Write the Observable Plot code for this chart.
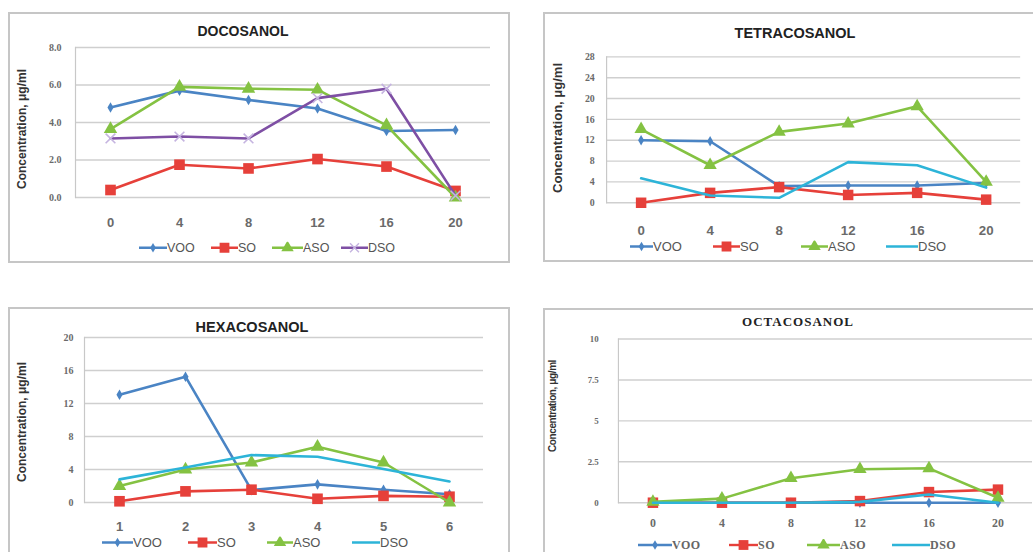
<!DOCTYPE html>
<html><head><meta charset="utf-8">
<script src="https://cdn.jsdelivr.net/npm/d3@7"></script>
<script src="https://cdn.jsdelivr.net/npm/@observablehq/plot@0.6"></script>
<style>
body{margin:0;background:#fff;}
#root{position:relative;width:1033px;height:552px;overflow:hidden;background:#fff;font-family:"Liberation Sans",Arial,sans-serif;}
.box{position:absolute;border:2px solid #c6c6c6;box-sizing:border-box;background:#fff;}
.plotwrap{position:absolute;}
.title{position:absolute;transform:translate(-50%,-50%);font-weight:bold;color:#222;white-space:nowrap;}
.ylab{position:absolute;transform:translate(-50%,-50%) rotate(-90deg);font-weight:bold;color:#333;white-space:nowrap;}
.item{position:absolute;display:flex;align-items:center;transform:translateY(-50%);color:#555;font-size:12.5px;white-space:nowrap;line-height:1;}
.item svg{display:block;}
</style></head>
<body><div id="root"></div>
<script>
// ---- data ----
const series = ["VOO", "SO", "ASO", "DSO"];
const hoursCats = ["0", "4", "8", "12", "16", "20"];
const hexaCats = ["1", "2", "3", "4", "5", "6"];

const docoTicks = [0, 2, 4, 6, 8];
const tetraTicks = [0, 4, 8, 12, 16, 20, 24, 28];
const hexaTicks = [0, 4, 8, 12, 16, 20];
const octaTicks = [0, 2.5, 5, 7.5, 10];

const docoVOO = [4.8, 5.7, 5.2, 4.75, 3.55, 3.6];
const docoSO  = [0.4, 1.75, 1.55, 2.05, 1.65, 0.35];
const docoASO = [3.65, 5.9, 5.8, 5.75, 3.85, 0.0];
const docoDSO = [3.15, 3.25, 3.15, 5.3, 5.8, 0.1];

const tetraVOO = [12.0, 11.8, 3.2, 3.3, 3.3, 3.8];
const tetraSO  = [0.0, 1.9, 3.0, 1.5, 1.9, 0.6];
const tetraASO = [14.1, 7.2, 13.6, 15.2, 18.5, 4.0];
const tetraDSO = [4.7, 1.4, 0.95, 7.8, 7.2, 2.9];

const hexaVOO = [13.05, 15.25, 1.5, 2.2, 1.55, 1.0];
const hexaSO  = [0.15, 1.35, 1.55, 0.45, 0.8, 0.7];
const hexaASO = [2.0, 4.0, 4.85, 6.75, 4.85, 0.0];
const hexaDSO = [2.8, 4.25, 5.75, 5.55, 4.05, 2.55];

const octaVOO = [0, 0, 0, 0, 0, 0];
const octaSO  = [0, 0, 0, 0.1, 0.65, 0.8];
const octaASO = [0.05, 0.25, 1.5, 2.05, 2.1, 0.3];
const octaDSO = [0, 0, 0, 0.05, 0.5, 0];

const yTitle = "Concentration, μg/ml";

// ---- styling ----
const colors = {VOO: "#4a84c4", SO: "#e6403a", ASO: "#84c242", DSO: "#2db4d8"};
const dsoPurple = "#7e4fa4";
const markers = {
  VOO: {symbol: "diamond", r: 3.2},
  SO: {symbol: "square", r: 6},
  ASO: {symbol: "triangle", r: 5},
  DSO: null
};

const root = document.getElementById("root");

function el(tag, cls, style, text) {
  const e = document.createElement(tag);
  if (cls) e.className = cls;
  Object.assign(e.style, style || {});
  if (text != null) e.textContent = text;
  root.appendChild(e);
  return e;
}

function panel(p) {
  el("div", "box", {left: p.box[0] + "px", top: p.box[1] + "px", width: p.box[2] + "px", height: p.box[3] + "px"});
  const rows = [];
  series.forEach(s => p.values[s].forEach((v, i) => rows.push({cat: p.cats[i], s, v})));
  const marks = [
    Plot.gridY(p.ticks, {stroke: "#cfcfcf", strokeOpacity: 1, strokeWidth: 1.4}),
    Plot.frame({anchor: "left", stroke: "#c8c8c8", strokeWidth: 1.2}),
    Plot.axisY(p.ticks, {tickSize: 0, tickPadding: p.yPad, tickFormat: p.fmt, fontWeight: "bold",
      fontFamily: "Liberation Serif, serif", fontSize: p.yFont, fill: "#6a6a6a", label: null}),
    Plot.axisX({tickSize: 0, tickPadding: p.xPad, fontFamily: p.xFamily, fontWeight: "bold",
      fontSize: p.xFont, fill: "#6a6a6a", label: null})
  ];
  series.forEach(s => {
    const d = rows.filter(r => r.s === s);
    const c = p.colors[s];
    marks.push(Plot.line(d, {x: "cat", y: "v", stroke: c, strokeWidth: 2.6}));
    const m = p.markers[s];
    if (m) {
      if (m.symbol === "times") {
        marks.push(Plot.dot(d, {x: "cat", y: "v", symbol: "times", r: m.r, stroke: m.color, strokeWidth: 1.6}));
      } else {
        marks.push(Plot.dot(d, {x: "cat", y: "v", symbol: m.symbol, r: m.r, fill: c, stroke: "none"}));
      }
    }
  });
  const chart = Plot.plot({
    width: p.box[2], height: p.box[3],
    marginLeft: p.m[0], marginRight: p.m[1], marginTop: p.m[2], marginBottom: p.m[3],
    x: {type: "point", domain: p.cats, padding: 0.5},
    y: {domain: p.ydomain},
    marks,
    style: {background: "transparent", color: "#505050", overflow: "visible"}
  });
  const w = el("div", "plotwrap", {left: p.box[0] + "px", top: p.box[1] + "px"});
  w.appendChild(chart);
  el("div", "title", Object.assign({left: p.title[1] + "px", top: p.title[2] + "px"}, p.titleStyle), p.title[0]);
  el("div", "ylab", Object.assign({left: p.ylab[0] + "px", top: p.ylab[1] + "px"}, p.ylabStyle), yTitle);
  series.forEach((s, i) => {
    const [x0, len] = p.legend[i];
    const it = el("div", "item", Object.assign({left: x0 + "px", top: p.legendY + "px"}, p.legendStyle || {}));
    const svg = d3.select(it).append("svg").attr("width", len).attr("height", 12);
    const c = p.colors[s];
    svg.append("line").attr("x1", 0).attr("x2", len).attr("y1", 6).attr("y2", 6).attr("stroke", c).attr("stroke-width", 2.4);
    const m = p.markers[s];
    if (m) {
      const sym = {diamond: d3.symbolDiamond, square: d3.symbolSquare, triangle: d3.symbolTriangle, times: d3.symbolTimes}[m.symbol];
      const path = svg.append("path").attr("transform", `translate(${len / 2},6)`)
        .attr("d", d3.symbol(sym, Math.PI * m.r * m.r * 0.85)());
      if (m.symbol === "times") path.attr("fill", "none").attr("stroke", m.color).attr("stroke-width", 1.4);
      else path.attr("fill", c);
    }
    const t = document.createElement("span");
    t.textContent = s;
    it.appendChild(t);
  });
}

const fmt1 = d3.format(".1f");

panel({
  box: [8, 12, 502, 251], m: [67, 20, 35, 66],
  cats: hoursCats, ticks: docoTicks, ydomain: [0, 8], fmt: fmt1, yPad: 14, yFont: 10,
  xPad: 20, xFont: 13, xFamily: "Liberation Sans, sans-serif",
  values: {VOO: docoVOO, SO: docoSO, ASO: docoASO, DSO: docoDSO},
  colors: Object.assign({}, colors, {DSO: dsoPurple}),
  markers: Object.assign({}, markers, {DSO: {symbol: "times", r: 4.5, color: "#c5b4e0"}}),
  title: ["DOCOSANOL", 243, 31], titleStyle: {fontSize: "14px"},
  ylab: [22, 129], ylabStyle: {fontSize: "12px"},
  legendY: 248, legend: [[139, 28], [211, 27], [272, 31], [341, 27]]
});

panel({
  box: [543, 12, 497, 250], m: [64, 13, 45, 57],
  cats: hoursCats, ticks: tetraTicks, ydomain: [0, 28], fmt: d3.format("d"), yPad: 12, yFont: 10,
  xPad: 23, xFont: 13.5, xFamily: "Liberation Sans, sans-serif",
  values: {VOO: tetraVOO, SO: tetraSO, ASO: tetraASO, DSO: tetraDSO},
  colors, markers,
  title: ["TETRACOSANOL", 795, 33], titleStyle: {fontSize: "14.5px"},
  ylab: [557, 128], ylabStyle: {fontSize: "13px"},
  legendY: 246, legend: [[630, 23], [713, 27], [801, 27], [886, 32]],
  legendStyle: {fontSize: "13px"}
});

panel({
  box: [8, 307, 502, 253], m: [76, 27, 30, 58],
  cats: hexaCats, ticks: hexaTicks, ydomain: [0, 20], fmt: d3.format("d"), yPad: 11, yFont: 10,
  xPad: 19, xFont: 13, xFamily: "Liberation Sans, sans-serif",
  values: {VOO: hexaVOO, SO: hexaSO, ASO: hexaASO, DSO: hexaDSO},
  colors, markers,
  title: ["HEXACOSANOL", 252, 327], titleStyle: {fontSize: "14.5px"},
  ylab: [22, 422], ylabStyle: {fontSize: "12px"},
  legendY: 542, legend: [[102, 31], [188, 29], [267, 26], [352, 28]],
  legendStyle: {fontSize: "13px"}
});

panel({
  box: [543, 308, 497, 252], m: [76, 1, 31, 55],
  cats: hoursCats, ticks: octaTicks, ydomain: [0, 10], fmt: d3.format(""), yPad: 20, yFont: 9,
  xPad: 16, xFont: 12, xFamily: "Liberation Serif, serif",
  values: {VOO: octaVOO, SO: octaSO, ASO: octaASO, DSO: octaDSO},
  colors, markers,
  title: ["OCTACOSANOL", 798, 322], titleStyle: {fontSize: "13px", fontFamily: "Liberation Serif, serif", letterSpacing: "1px"},
  ylab: [552, 406], ylabStyle: {fontSize: "10px", letterSpacing: "-0.4px"},
  legendY: 545, legend: [[638, 34], [729, 29], [807, 33], [892, 38]],
  legendStyle: {fontSize: "12px", fontFamily: "Liberation Serif, serif", fontWeight: "bold", letterSpacing: "0.5px", color: "#666"}
});
</script>
</body></html>
